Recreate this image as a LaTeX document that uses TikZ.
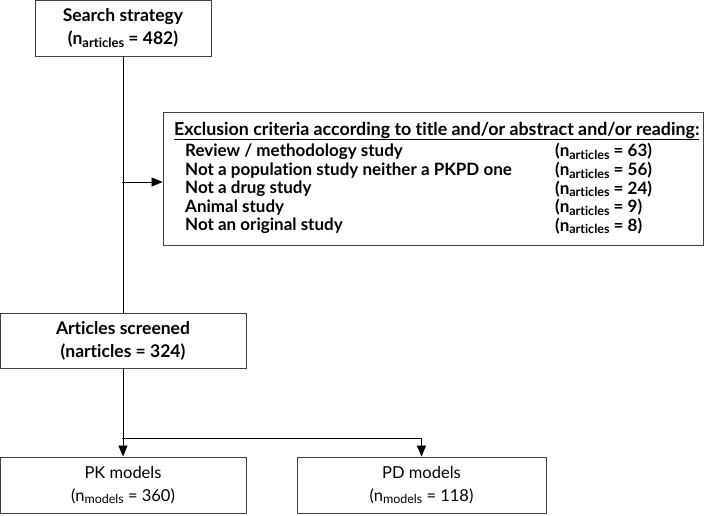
\documentclass[tikz,border=0pt]{standalone}
\usepackage{fontspec}
\setmainfont{Lato}[Ligatures=NoCommon]
\usetikzlibrary{arrows.meta}

\newcommand\nsub[2]{n\raisebox{-0.3ex}{\fontsize{#1}{#1}\selectfont #2}}

\tikzset{box/.style={draw=black!75,line width=0.9pt,inner sep=0pt,align=center,
    font=\bfseries\fontsize{17.5}{23}\selectfont},
  plain/.style={box,font=\fontsize{16.5}{23}\selectfont},
  item/.style={anchor=west,inner sep=0pt,font=\bfseries\fontsize{17}{18}\selectfont},
  link/.style={line width=0.8pt},
  arrow/.style={line width=0.8pt,-{Triangle[length=11pt,width=9pt]}}}

\begin{document}
\begin{tikzpicture}[x=1pt,y=-1pt]
\useasboundingbox (0,0) rectangle (705,515);
\node[box,minimum width=176,minimum height=56] (search) at (123,28)
  {Search strategy\\(\nsub{13}{articles} = 482)};
\node[box,minimum width=540,minimum height=133] (excl) at (433,178.5) {};
\node[item,font=\bfseries\fontsize{17.8}{18}\selectfont] (head) at (174,131)
  {\underline{Exclusion criteria according to title and/or abstract and/or reading:}};
\foreach \txt/\num [count=\i] in {{Review / methodology study}/63,
  {Not a population study neither a PKPD one}/56, {Not a drug study}/24,
  {Animal study}/9, {Not an original study}/8}{
  \node[item] (crit\i) at (185,133+18.6*\i) {\txt};
  \node[item] (num\i) at (555,133+18.6*\i) {(\nsub{12.5}{articles} = \num)};
}
\node[box,minimum width=246,minimum height=55] (arts) at (123,340.5)
  {Articles screened\\(narticles = 324)};
\node[plain,minimum width=246,minimum height=56] (pk) at (123,485)
  {PK models\\(\nsub{12.5}{models} = 360)};
\node[plain,minimum width=249,minimum height=56] (pd) at (421.5,485)
  {PD models\\(\nsub{12.5}{models} = 118)};
\coordinate (fork) at (122,182);
\coordinate (split) at (122,438);
\draw[link] (search.south) -- (arts.north);
\draw[arrow] (fork) -- (excl.west |- fork);
\draw[arrow] (arts.south) -- (pk.north);
\draw[arrow] (split) -| (pd.north);
\end{tikzpicture}
\end{document}
